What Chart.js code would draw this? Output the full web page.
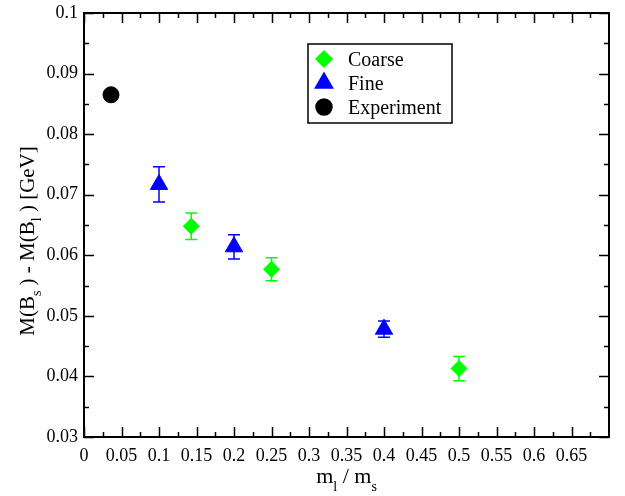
<!DOCTYPE html>
<html lang="en">
<head>
  <meta charset="UTF-8">
  <title>Bs - Bl splitting</title>
  <script src="https://cdn.jsdelivr.net/npm/chart.js"></script>
  <style>
    body {
      margin: 0;
      background-color: #ffffff;
    }
    canvas {
      display: block;
    }
  </style>
</head>
<body>
  <canvas id="massChart" width="625" height="496"></canvas>

  <script>
    // values
    const coarseX = [0.143, 0.25, 0.5];
    const coarseY = [0.0648, 0.0577, 0.0413];
    const coarseErr = [0.0022, 0.0019, 0.0020];

    const fineX = [0.1, 0.2, 0.4];
    const fineY = [0.0717, 0.0614, 0.0478];
    const fineErr = [0.0029, 0.0020, 0.00135];

    const expX = [0.036];
    const expY = [0.0865];

    const xTicks = [0, 0.05, 0.1, 0.15, 0.2, 0.25, 0.3, 0.35, 0.4, 0.45, 0.5, 0.55, 0.6, 0.65];
    const yTicks = [0.03, 0.04, 0.05, 0.06, 0.07, 0.08, 0.09, 0.1];

    const FONT = '"Liberation Serif", "Times New Roman", serif';

    function toPoints(xs, ys) {
      return xs.map((x, i) => ({ x: x, y: ys[i] }));
    }

    function fmt(v) {
      return String(parseFloat(v.toFixed(3)));
    }

    // draw a string with subscript pieces: parts = [[text, isSub], ...]
    function drawSubText(ctx, parts, x, y, size, drop) {
      const subSize = Math.round(size * 0.65);
      let total = 0;
      parts.forEach(p => {
        ctx.font = (p[1] ? subSize : size) + 'px ' + FONT;
        total += ctx.measureText(p[0]).width;
      });
      let cx = x - total / 2;
      parts.forEach(p => {
        ctx.font = (p[1] ? subSize : size) + 'px ' + FONT;
        ctx.fillText(p[0], cx, p[1] ? y + drop : y);
        cx += ctx.measureText(p[0]).width;
      });
    }

    const errorBars = {
      id: 'errorBars',
      beforeDatasetsDraw(chart) {
        const ctx = chart.ctx;
        const xs = chart.scales.x, ys = chart.scales.y;
        chart.data.datasets.forEach(ds => {
          if (!ds.errors) return;
          ctx.save();
          ctx.strokeStyle = ds.borderColor;
          ctx.lineWidth = 1.5;
          ds.data.forEach((p, i) => {
            const px = xs.getPixelForValue(p.x);
            const top = ys.getPixelForValue(p.y + ds.errors[i]);
            const bot = ys.getPixelForValue(p.y - ds.errors[i]);
            ctx.beginPath();
            ctx.moveTo(px, top); ctx.lineTo(px, bot);
            ctx.moveTo(px - 6, top); ctx.lineTo(px + 6, top);
            ctx.moveTo(px - 6, bot); ctx.lineTo(px + 6, bot);
            ctx.stroke();
          });
          ctx.restore();
        });
      }
    };

    const frameAndText = {
      id: 'frameAndText',
      afterDraw(chart) {
        const ctx = chart.ctx;
        const a = chart.chartArea;
        const xs = chart.scales.x, ys = chart.scales.y;
        ctx.save();

        // ticks pointing inward on all four sides
        ctx.strokeStyle = '#000';
        ctx.lineWidth = 1.5;
        ctx.beginPath();
        xTicks.forEach(t => {
          const px = Math.round(xs.getPixelForValue(t)) + 0.5;
          ctx.moveTo(px, a.bottom); ctx.lineTo(px, a.bottom - 10);
          ctx.moveTo(px, a.top); ctx.lineTo(px, a.top + 10);
          const m = Math.round(xs.getPixelForValue(t + 0.025)) + 0.5;
          ctx.moveTo(m, a.bottom); ctx.lineTo(m, a.bottom - 5);
          ctx.moveTo(m, a.top); ctx.lineTo(m, a.top + 5);
        });
        yTicks.forEach((t, i) => {
          const py = Math.round(ys.getPixelForValue(t)) + 0.5;
          ctx.moveTo(a.left, py); ctx.lineTo(a.left + 10, py);
          ctx.moveTo(a.right, py); ctx.lineTo(a.right - 10, py);
          if (i < yTicks.length - 1) {
            const m = Math.round(ys.getPixelForValue(t + 0.005)) + 0.5;
            ctx.moveTo(a.left, m); ctx.lineTo(a.left + 5, m);
            ctx.moveTo(a.right, m); ctx.lineTo(a.right - 5, m);
          }
        });
        ctx.stroke();

        ctx.lineWidth = 2;
        ctx.strokeRect(a.left, a.top, a.right - a.left, a.bottom - a.top);

        // legend box
        ctx.lineWidth = 1.5;
        ctx.fillStyle = '#fff';
        ctx.fillRect(308, 44, 144, 79);
        ctx.strokeRect(308, 44, 144, 79);
        ctx.textAlign = 'left';
        ctx.textBaseline = 'alphabetic';
        chart.data.datasets.forEach((ds, i) => {
          const cy = 59 + i * 24;
          ctx.fillStyle = ds.backgroundColor;
          ctx.strokeStyle = ds.borderColor;
          Chart.helpers.drawPoint(ctx, {
            pointStyle: ds.pointStyle,
            radius: ds.pointRadius,
            borderWidth: 1,
            rotation: 0
          }, 324, cy);
          ctx.fillStyle = '#000';
          ctx.font = '20px ' + FONT;
          ctx.fillText(ds.label, 348, cy + 7);
        });

        // axis titles with subscripts
        ctx.fillStyle = '#000';
        drawSubText(ctx, [['m', false], ['l', true], [' / m', false], ['s', true]],
          (a.left + a.right) / 2, 483, 22, 8);

        ctx.translate(34, 241);
        ctx.rotate(-Math.PI / 2);
        drawSubText(ctx, [['M(B', false], ['s', true], [' ) - M(B', false], ['l', true], [' ) [GeV]', false]],
          0, 0, 21, 7);
        ctx.restore();
      }
    };

    function noEdgePadding(scale) {
      scale.paddingTop = 0;
      scale.paddingBottom = 0;
      scale.paddingLeft = 0;
      scale.paddingRight = 0;
    }

    const ctx = document.getElementById('massChart').getContext('2d');
    new Chart(ctx, {
      type: 'scatter',
      data: {
        datasets: [
          {
            label: 'Coarse',
            data: toPoints(coarseX, coarseY),
            errors: coarseErr,
            pointStyle: 'rectRot',
            pointRadius: 8,
            backgroundColor: '#00ff00',
            borderColor: '#00ff00',
            borderWidth: 1
          },
          {
            label: 'Fine',
            data: toPoints(fineX, fineY),
            errors: fineErr,
            pointStyle: 'triangle',
            pointRadius: 10,
            backgroundColor: '#0000ff',
            borderColor: '#0000ff',
            borderWidth: 1
          },
          {
            label: 'Experiment',
            data: toPoints(expX, expY),
            pointStyle: 'circle',
            pointRadius: 8,
            backgroundColor: '#000000',
            borderColor: '#000000',
            borderWidth: 1
          }
        ]
      },
      options: {
        responsive: false,
        animation: false,
        layout: {
          padding: { left: 22, top: 13, right: 16, bottom: 0 }
        },
        plugins: {
          legend: { display: false },
          tooltip: { enabled: false }
        },
        scales: {
          x: {
            type: 'linear',
            min: 0,
            max: 0.7,
            afterFit(scale) { scale.height = 59; noEdgePadding(scale); },
            afterBuildTicks(scale) {
              scale.ticks = xTicks.map(v => ({ value: v }));
            },
            grid: { display: false, drawTicks: false },
            border: { display: false },
            ticks: {
              padding: 8,
              color: '#000',
              font: { family: FONT, size: 18 },
              callback: v => fmt(v)
            }
          },
          y: {
            min: 0.03,
            max: 0.1,
            afterFit(scale) { scale.width = 62; noEdgePadding(scale); },
            afterBuildTicks(scale) {
              scale.ticks = yTicks.map(v => ({ value: v }));
            },
            grid: { display: false, drawTicks: false },
            border: { display: false },
            ticks: {
              padding: 6,
              color: '#000',
              font: { family: FONT, size: 18 },
              callback: v => fmt(v)
            }
          }
        }
      },
      plugins: [errorBars, frameAndText]
    });
  </script>
</body>
</html>
